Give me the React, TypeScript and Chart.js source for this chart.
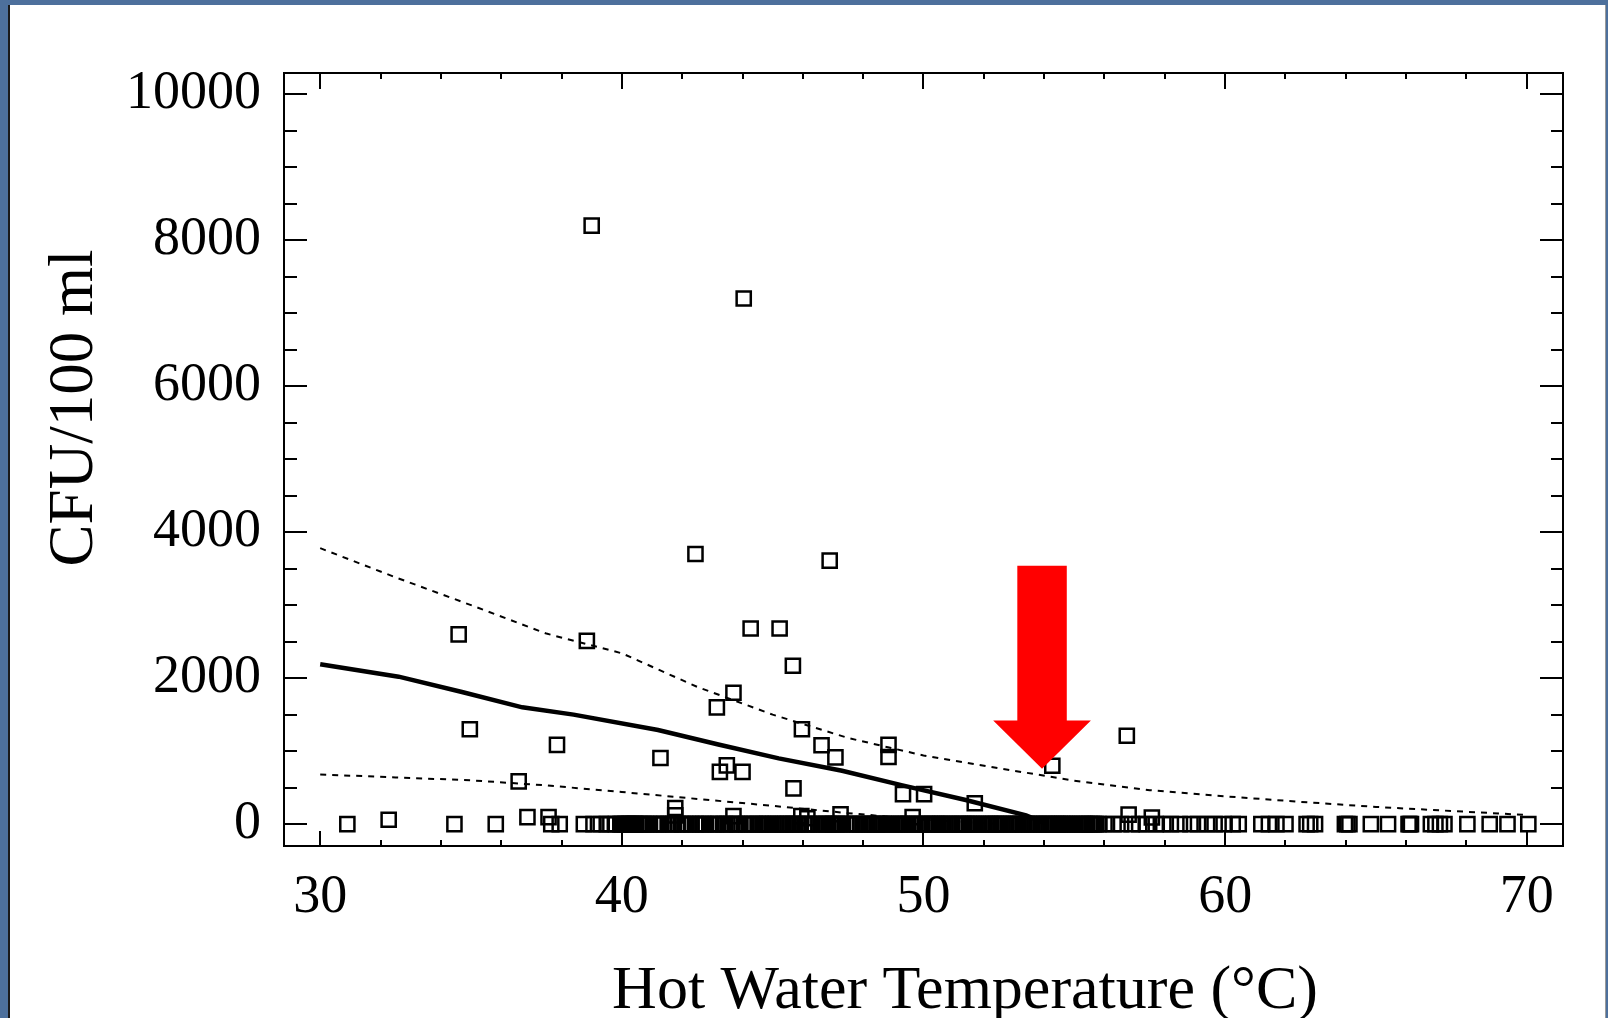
import React, { useEffect, useRef } from "react";
import { Chart, registerables } from "chart.js";

Chart.register(...registerables);

const FONT = "'Liberation Serif', 'Times New Roman', serif";

const X_TITLE = "Hot Water Temperature (°C)";
const Y_TITLE = "CFU/100 ml";
const X_TICKS = [30, 40, 50, 60, 70];
const Y_TICKS = [0, 2000, 4000, 6000, 8000, 10000];
const X_MIN = 28.8;
const X_MAX = 71.2;
const Y_MIN = -300;
const Y_MAX = 10290;

// Samples with CFU above zero: temperature / count
const HIGH_TEMPS = [
  39.0, 44.04, 42.44, 46.89, 34.59, 38.84, 44.27, 45.23, 45.67, 43.7, 43.15, 45.97, 34.96,
  37.85, 46.62, 48.84, 48.84, 47.08, 41.28, 56.74, 43.48, 43.25, 44.0, 36.58, 45.69, 49.32,
  50.02, 51.7, 54.27, 41.77, 41.77, 32.27, 36.87, 37.57, 43.7, 45.95, 46.15, 47.25, 49.64,
  56.8, 57.57,
];
const HIGH_CFU = [
  8200, 7200, 3700, 3610, 2600, 2510, 2680, 2680, 2170, 1800, 1600, 1300, 1300,
  1085, 1080, 1085, 920, 915, 905, 1210, 805, 715, 715, 585, 490, 410,
  410, 285, 800, 220, 120, 60, 95, 95, 110, 110, 80, 135, 95,
  130, 90,
];

// Samples with no growth (CFU = 0): temperatures
const ZERO_TEMPS = [
  30.9, 34.45, 35.82, 37.66, 37.94, 38.74, 39.06, 39.3, 39.5, 39.62, 39.8, 39.95, 40.05, 40.12,
  40.2, 40.3, 40.38, 40.47, 40.6, 40.72, 40.9, 41.05, 41.2, 41.4, 41.55, 41.7, 41.85, 42.0, 42.1,
  42.3, 42.45, 42.6, 42.78, 42.9, 43.05, 43.2, 43.35, 43.5, 43.62, 43.75, 43.9, 44.05, 44.2, 44.32,
  44.5, 44.6, 44.75, 44.9, 45.02, 45.2, 45.35, 45.5, 45.6, 45.75, 45.9, 46.05, 46.2, 46.4, 46.52,
  46.7, 46.85, 47.0, 47.12, 47.3, 47.45, 47.6, 47.72, 47.9, 48.05, 48.2, 48.3, 48.45, 48.6, 48.75,
  48.9, 49.05, 49.2, 49.35, 49.5, 49.62, 49.8, 49.95, 50.05, 50.2, 50.35, 50.5, 50.62, 50.8, 50.92,
  51.05, 51.2, 51.35, 51.5, 51.65, 51.8, 51.92, 52.1, 52.25, 52.4, 52.55, 52.7, 52.82, 53.0, 53.15,
  53.3, 53.42, 53.6, 53.75, 53.9, 54.0, 54.15, 54.3, 54.45, 54.6, 54.75, 54.9, 55.02, 55.2, 55.35,
  55.5, 55.65, 55.8, 56.0, 56.3, 56.55, 56.9, 57.15, 57.4, 57.7, 57.95, 58.2, 58.5, 58.85, 59.1,
  59.4, 59.65, 59.95, 60.25, 60.45, 61.2, 61.45, 61.7, 62.0, 62.7, 62.82, 62.98, 63.97, 64.05,
  64.12, 64.83, 65.4, 66.08, 66.12, 66.16, 66.82, 66.97, 67.12, 67.27, 68.03, 68.77, 69.36, 70.05,
  40.0, 40.16, 40.25, 40.43, 40.55, 40.66, 40.8, 41.12, 41.3, 41.62, 41.95, 42.2, 42.52, 42.7,
  43.12, 43.42, 43.82, 44.12, 44.4, 44.68, 44.82, 45.1, 45.28, 45.42, 45.68, 45.82, 46.12, 46.3,
  46.6, 46.78, 46.93, 47.06, 47.2, 47.52, 47.8, 48.0, 48.12, 48.38, 48.52, 48.68, 48.82, 49.12,
  49.28, 49.42, 49.7, 49.88, 50.12, 50.28, 50.42, 50.56, 50.72, 50.86, 51.12, 51.28, 51.42, 51.58,
  51.72, 52.02, 52.18, 52.32, 52.48, 52.62, 52.9, 53.08, 53.22, 53.5, 53.68, 53.82, 54.08, 54.22,
  54.38, 54.52, 54.68, 54.82, 55.1, 55.28, 55.42, 55.58, 55.72,
];

// Fitted curve and confidence bands
const FIT_TEMPS = [30, 32.6, 34.7, 36.7, 38.4, 41.2, 43.2, 45.2, 47.3, 49.3, 51.4, 53.4, 54.1];
const FIT_CFU = [2190, 2020, 1810, 1600, 1500, 1290, 1090, 900, 730, 530, 330, 120, 0];
const UPPER_TEMPS = [30, 32.5, 35, 37.5, 40, 42.5, 45, 47.5, 50, 52.5, 55, 57.5, 60, 62.5, 65, 67.5, 70];
const UPPER_CFU = [3780, 3380, 3000, 2610, 2340, 1880, 1500, 1180, 940, 765, 595, 465, 380, 305, 235, 180, 125];
const LOWER_TEMPS = [30, 32.5, 35, 37.5, 40, 42.5, 45, 47.5, 50, 52.5];
const LOWER_CFU = [680, 640, 600, 530, 440, 345, 250, 150, 60, 0];

// Red arrow annotation (data units)
const ARROW_TEMP = 53.93;
const ARROW_TIP_CFU = 760;
const ARROW_HEAD_BASE_CFU = 1420;
const ARROW_TAIL_CFU = 3540;
const ARROW_SHAFT_HALF = 0.82;
const ARROW_HEAD_HALF = 1.62;

const pts = (xs: number[], ys: number[]) => xs.map((x, i) => ({ x, y: ys[i] }));

const arrowPlugin = {
  id: "arrow",
  afterDatasetsDraw(chart: any) {
    const { ctx, scales } = chart;
    const X = (v: number) => scales.x.getPixelForValue(v);
    const Y = (v: number) => scales.y.getPixelForValue(v);
    ctx.save();
    ctx.fillStyle = "#ff0000";
    ctx.beginPath();
    ctx.moveTo(X(ARROW_TEMP - ARROW_SHAFT_HALF), Y(ARROW_TAIL_CFU));
    ctx.lineTo(X(ARROW_TEMP + ARROW_SHAFT_HALF), Y(ARROW_TAIL_CFU));
    ctx.lineTo(X(ARROW_TEMP + ARROW_SHAFT_HALF), Y(ARROW_HEAD_BASE_CFU));
    ctx.lineTo(X(ARROW_TEMP + ARROW_HEAD_HALF), Y(ARROW_HEAD_BASE_CFU));
    ctx.lineTo(X(ARROW_TEMP), Y(ARROW_TIP_CFU));
    ctx.lineTo(X(ARROW_TEMP - ARROW_HEAD_HALF), Y(ARROW_HEAD_BASE_CFU));
    ctx.lineTo(X(ARROW_TEMP - ARROW_SHAFT_HALF), Y(ARROW_HEAD_BASE_CFU));
    ctx.closePath();
    ctx.fill();
    ctx.restore();
  },
};

const framePlugin = {
  id: "frame",
  afterDraw(chart: any) {
    const { ctx, chartArea: a, scales } = chart;
    const xs = scales.x;
    const ys = scales.y;
    ctx.save();
    ctx.strokeStyle = "#000";
    ctx.lineWidth = 2;
    ctx.strokeRect(a.left, a.top, a.right - a.left, a.bottom - a.top);
    ctx.beginPath();
    for (let v = 30; v <= X_MAX; v += 2) {
      const px = Math.round(xs.getPixelForValue(v));
      const major = X_TICKS.includes(v);
      ctx.moveTo(px, a.bottom);
      ctx.lineTo(px, a.bottom - (major ? 15 : 6));
      ctx.moveTo(px, a.top);
      ctx.lineTo(px, a.top + (major ? 16 : 6));
    }
    for (let v = 0; v <= Y_MAX; v += 500) {
      const py = Math.round(ys.getPixelForValue(v));
      const major = Y_TICKS.includes(v);
      ctx.moveTo(a.left, py);
      ctx.lineTo(a.left + (major ? 23 : 13), py);
      ctx.moveTo(a.right, py);
      ctx.lineTo(a.right - (major ? 23 : 12), py);
    }
    ctx.stroke();

    ctx.fillStyle = "#000";
    ctx.font = `62px ${FONT}`;
    ctx.textAlign = "center";
    ctx.textBaseline = "alphabetic";
    ctx.fillText(X_TITLE, 965, 1008);

    ctx.translate(92, 408);
    ctx.rotate(-Math.PI / 2);
    ctx.font = `63px ${FONT}`;
    ctx.fillText(Y_TITLE, 0, 0);
    ctx.restore();
  },
};

export default function App() {
  const ref = useRef<HTMLCanvasElement>(null);

  useEffect(() => {
    const canvas = ref.current;
    if (!canvas) return;
    const chart = new Chart(canvas, {
      type: "scatter",
      data: {
        datasets: [
          {
            label: "Samples",
            data: [...pts(HIGH_TEMPS, HIGH_CFU), ...ZERO_TEMPS.map((x) => ({ x, y: 0 }))],
            pointStyle: "rect",
            pointRadius: 10,
            pointBorderWidth: 2.5,
            pointBorderColor: "#000",
            pointBackgroundColor: "rgba(0,0,0,0)",
            showLine: false,
          },
          {
            label: "Fit",
            data: pts(FIT_TEMPS, FIT_CFU),
            showLine: true,
            borderColor: "#000",
            borderWidth: 4.5,
            pointRadius: 0,
            tension: 0,
          },
          {
            label: "Upper",
            data: pts(UPPER_TEMPS, UPPER_CFU),
            showLine: true,
            borderColor: "#000",
            borderWidth: 2,
            borderDash: [6, 6],
            pointRadius: 0,
            tension: 0,
          },
          {
            label: "Lower",
            data: pts(LOWER_TEMPS, LOWER_CFU),
            showLine: true,
            borderColor: "#000",
            borderWidth: 2,
            borderDash: [6, 6],
            pointRadius: 0,
            tension: 0,
          },
        ],
      },
      options: {
        responsive: false,
        animation: false,
        events: [],
        layout: { padding: { left: 0, top: 73, right: 45, bottom: 0 } },
        plugins: { legend: { display: false }, tooltip: { enabled: false } },
        scales: {
          x: {
            type: "linear",
            min: X_MIN,
            max: X_MAX,
            grid: { display: false, drawTicks: false },
            border: { display: false },
            afterBuildTicks: (s: any) => {
              s.ticks = X_TICKS.map((value) => ({ value }));
            },
            ticks: {
              autoSkip: false,
              maxRotation: 0,
              padding: 19,
              color: "#000",
              font: { family: FONT, size: 54 },
              callback: (v: any) => String(v),
            },
            afterFit: (s: any) => {
              s.height = 172;
            },
          },
          y: {
            type: "linear",
            min: Y_MIN,
            max: Y_MAX,
            grid: { display: false, drawTicks: false },
            border: { display: false },
            afterBuildTicks: (s: any) => {
              s.ticks = Y_TICKS.map((value) => ({ value }));
            },
            ticks: {
              autoSkip: false,
              padding: 23,
              color: "#000",
              font: { family: FONT, size: 54 },
              callback: (v: any) => String(v),
            },
            afterFit: (s: any) => {
              s.width = 284;
            },
          },
        },
      },
      plugins: [arrowPlugin, framePlugin],
    } as any);
    return () => chart.destroy();
  }, []);

  return (
    <div
      style={{
        position: "absolute",
        left: 0,
        top: 0,
        width: 1608,
        height: 1018,
        background: "#4d709c",
        overflow: "hidden",
      }}
    >
      <div
        style={{
          position: "absolute",
          left: 8,
          top: 5,
          width: 1598,
          height: 1013,
          background: "#ffffff",
          borderLeft: "2px solid #1a1a1a",
          borderRight: "1px solid #9a9a9a",
          boxSizing: "border-box",
        }}
      />
      <canvas ref={ref} width={1608} height={1018} style={{ position: "absolute", left: 0, top: 0 }} />
    </div>
  );
}
